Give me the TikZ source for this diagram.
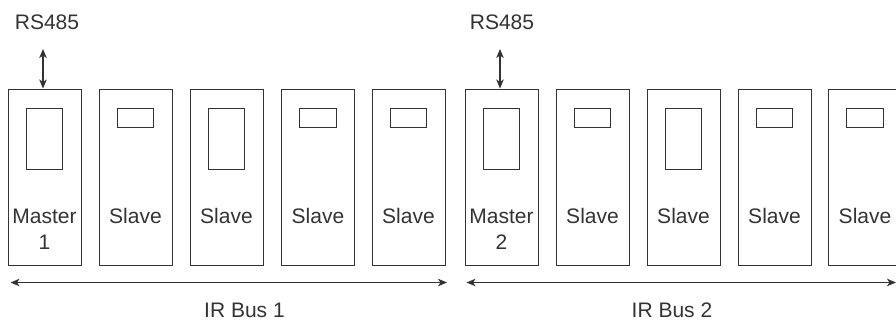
\documentclass[tikz,border=0pt]{standalone}
\usepackage{fontspec}
\setmainfont{Liberation Sans}
\usetikzlibrary{arrows.meta}
\definecolor{ink}{HTML}{333333}
\tikzset{
  unit/.style={draw=ink, line width=1pt, rectangle, minimum width=73pt, minimum height=176pt, inner sep=0pt},
  tallwin/.style={draw=ink, line width=1pt, rectangle, minimum width=36.5pt, minimum height=61pt, inner sep=0pt},
  smallwin/.style={draw=ink, line width=1pt, rectangle, minimum width=36.5pt, minimum height=19pt, inner sep=0pt},
  lbl/.style={font=\fontsize{21}{26}\selectfont, text=ink, align=center, inner sep=0pt},
  tip/.tip={Stealth[length=9pt,width=7.5pt,inset=2.5pt]},
  link/.style={draw=ink, line width=1.1pt, tip-tip},
}
\begin{document}
\begin{tikzpicture}[x=1pt, y=-1pt]
\useasboundingbox (0,0) rectangle (896,322);
% unit columns: left edges
\foreach \n/\xl in {1/8, 2/99, 3/190, 4/281.5, 5/372, 6/465, 7/556, 8/647, 9/738, 10/828.5} {
  \node[unit] (u\n) at (\xl+36.5, 177) {};
}
% displays
\foreach \n in {1,3,6,8} {
  \node[tallwin] (w\n) at ([yshift=-50.5pt]u\n.north) {};
}
\foreach \n in {2,4,5,7,9,10} {
  \node[smallwin] (w\n) at ([yshift=-29.5pt]u\n.north) {};
}
% captions
\node[lbl] (t1) at ([yshift=-52pt]u1.center) {Master\\1};
\node[lbl] (t6) at ([yshift=-52pt]u6.center) {Master\\2};
\foreach \n in {2,3,4,5,7,8,9,10} {
  \node[lbl] (t\n) at ([yshift=-39pt]u\n.center) {Slave};
}
% RS485 links to the masters
\node[lbl] (rs1) at (47,22) {RS485};
\node[lbl] (rs2) at (502,22) {RS485};
\coordinate (r1) at ([xshift=-1.5pt]u1.north |- 0,49);
\coordinate (r1b) at ([xshift=-1.5pt]u1.north);
\draw[link] (r1) -- (r1b);
\coordinate (r6) at ([xshift=-1.5pt]u6.north |- 0,49);
\coordinate (r6b) at ([xshift=-1.5pt]u6.north);
\draw[link] (r6) -- (r6b);
% infrared buses
\coordinate (b1l) at (10.5,282.5);
\coordinate (b1r) at (447,282.5);
\coordinate (b2l) at (466.5,282.5);
\coordinate (b2r) at (896,282.5);
\draw[link] (b1l) -- (b1r);
\draw[link] (b2l) -- (b2r);
\node[lbl] (bus1) at (244.5,310) {IR Bus 1};
\node[lbl] (bus2) at (672,310) {IR Bus 2};
\end{tikzpicture}
\end{document}
